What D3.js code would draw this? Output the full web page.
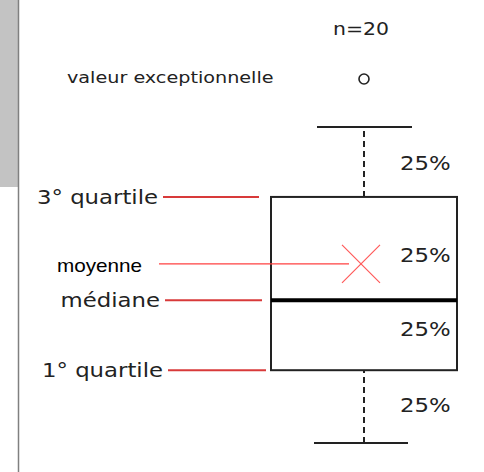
<!DOCTYPE html>
<html>
<head>
<meta charset="utf-8">
<script src="https://cdn.jsdelivr.net/npm/d3@7"></script>
<style>
  body { margin: 0; background: #fff; }
  svg { display: block; }
</style>
</head>
<body>
<div class="chart"></div>
<script>
// box plot values (one sample, n = 20)
const stats = ["min", "q1", "median", "q3", "max"];
const statValues = [5, 10, 14.8, 21.9, 26.7];
const outliers = [30];
const meanValue = 17.3;
const sampleSize = 20;

// labels on the left and share labels on the right
const leftLabels = ["1° quartile", "médiane", "3° quartile"];
const leftLabelStats = ["q1", "median", "q3"];
const shareLabels = ["25%", "25%", "25%", "25%"];

const w = 484, h = 472;
const cx = 364;
const boxWidth = 186;
const stretch = 1.2; // the text in the source is a bit wide

const svg = d3.select("div.chart")
    .append("svg")
    .attr("width", w)
    .attr("height", h);

const y = d3.scaleLinear()
    .domain([5, 30])
    .range([443, 79]);

const v = {};
stats.forEach((s, i) => v[s] = statValues[i]);

// helper for the stretched labels
function label(x, yy, t, opts) {
    opts = opts || {};
    return svg.append("text")
        .attr("transform", `translate(${x},${yy}) scale(${opts.sx || stretch},1)`)
        .attr("text-anchor", opts.anchor || "start")
        .attr("font-family", opts.font || "DejaVu Sans")
        .attr("font-size", opts.size || 19)
        .attr("fill", opts.fill || "#222")
        .text(t);
}

// grey strip on the left
svg.append("rect")
    .attr("x", 0).attr("y", 0)
    .attr("width", 18).attr("height", 187)
    .attr("fill", "#c3c3c3");
svg.append("line")
    .attr("x1", 18.5).attr("x2", 18.5)
    .attr("y1", 0).attr("y2", h)
    .attr("stroke", "#808080")
    .attr("stroke-width", 1.5);

const g = svg.append("g");

// whiskers (dashed)
[["min", "q1"], ["q3", "max"]].forEach(p => {
    g.append("line")
        .attr("x1", cx).attr("x2", cx)
        .attr("y1", y(v[p[0]])).attr("y2", y(v[p[1]]))
        .attr("stroke", "#222")
        .attr("stroke-width", 2)
        .attr("stroke-dasharray", "6,4");
});

// whisker caps
g.append("line")
    .attr("x1", cx - 47).attr("x2", cx + 48)
    .attr("y1", y(v.max)).attr("y2", y(v.max))
    .attr("stroke", "#222").attr("stroke-width", 2);
g.append("line")
    .attr("x1", cx - 50).attr("x2", cx + 44)
    .attr("y1", y(v.min)).attr("y2", y(v.min))
    .attr("stroke", "#222").attr("stroke-width", 2);

// box
g.append("rect")
    .attr("x", cx - 93)
    .attr("y", y(v.q3))
    .attr("width", boxWidth)
    .attr("height", y(v.q1) - y(v.q3))
    .attr("fill", "#fff")
    .attr("stroke", "#222")
    .attr("stroke-width", 2);

// median
g.append("line")
    .attr("x1", cx - 93).attr("x2", cx + 93)
    .attr("y1", y(v.median)).attr("y2", y(v.median))
    .attr("stroke", "#000")
    .attr("stroke-width", 4);

// outliers
g.selectAll("circle.out")
    .data(outliers)
    .enter()
    .append("circle")
    .attr("class", "out")
    .attr("cx", cx)
    .attr("cy", d => y(d))
    .attr("r", 5)
    .attr("fill", "none")
    .attr("stroke", "#222")
    .attr("stroke-width", 1.6);

// mean cross
const mx = cx - 3, my = y(meanValue), ms = 19;
g.append("path")
    .attr("d", `M${mx - ms},${my - ms}L${mx + ms},${my + ms}M${mx - ms},${my + ms}L${mx + ms},${my - ms}`)
    .attr("stroke", "#ff5a5a")
    .attr("stroke-width", 1.2)
    .attr("fill", "none");

// n label and outlier label
label(361, 35, "n=" + sampleSize, { anchor: "middle", size: 17 });
label(67, 83, "valeur exceptionnelle", { size: 16 });

// left labels with red leaders
const leaderX = { q1: [168, 266], median: [165, 262], q3: [163, 259] };
leftLabels.forEach((t, i) => {
    const s = leftLabelStats[i];
    const yy = y(v[s]);
    label(leaderX[s][0] - 5, yy + 7, t, { anchor: "end" });
    svg.append("line")
        .attr("x1", leaderX[s][0]).attr("x2", leaderX[s][1])
        .attr("y1", yy).attr("y2", yy)
        .attr("stroke", "#d83a3a")
        .attr("stroke-width", 2);
});

// mean label
label(57, my + 8, "moyenne", { font: "Liberation Sans", size: 18, sx: 1.15, fill: "#000" });
svg.append("line")
    .attr("x1", 159).attr("x2", 349)
    .attr("y1", my).attr("y2", my)
    .attr("stroke", "#ff4040")
    .attr("stroke-width", 1.2);

// share labels, one per quarter
const shareY = [170, 262, 336, 412];
shareLabels.forEach((t, i) => {
    label(400, shareY[i], t);
});
</script>
</body>
</html>
